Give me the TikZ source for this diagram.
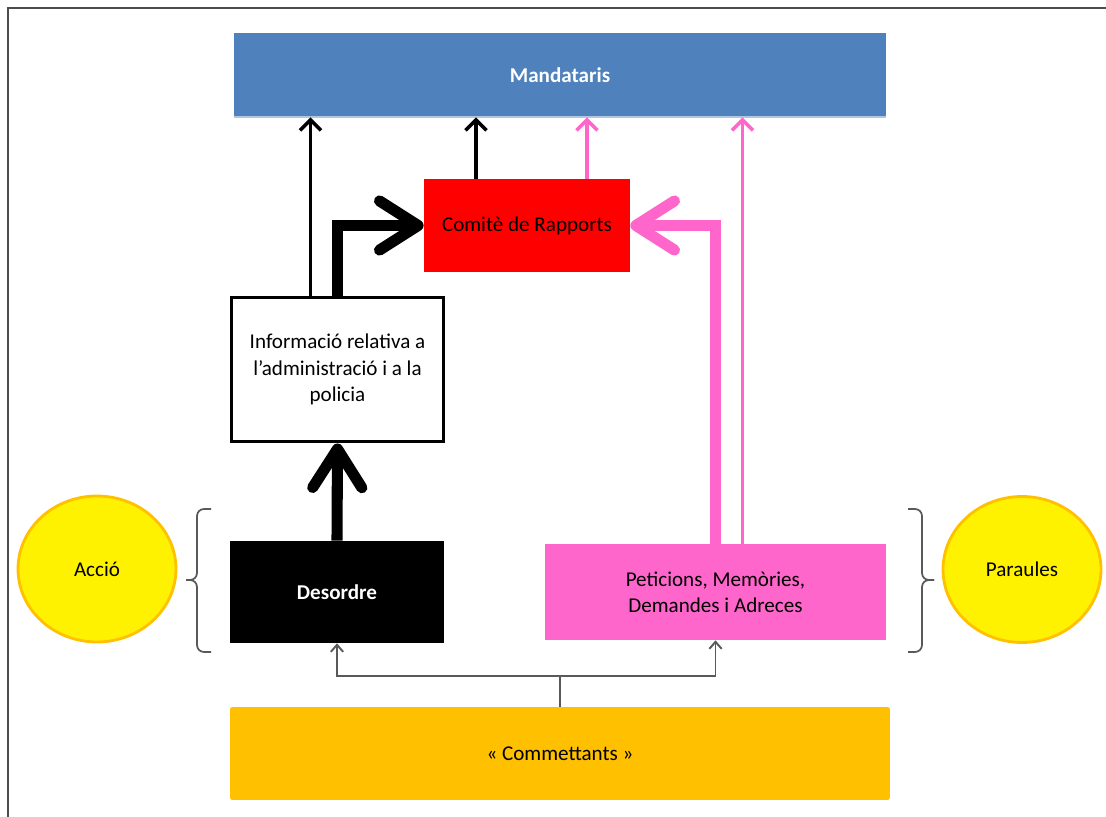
\documentclass[tikz,border=0pt]{standalone}
\usepackage{fontspec}
\setmainfont{Carlito}
\usepackage{tikz}
\usetikzlibrary{positioning,calc,arrows.meta,shapes.geometric}
\definecolor{mandblue}{HTML}{4F81BD}
\definecolor{petpink}{HTML}{FF66CC}
\definecolor{commgold}{HTML}{FFC000}
\definecolor{framegray}{HTML}{4D4D4D}
\definecolor{linegray}{HTML}{595959}
\tikzstyle{line} = [draw,thick]

\begin{document}
\begin{tikzpicture}[x=0.02cm,y=-0.02cm,font=\fontsize{12}{15}\selectfont,
            box/.style = {rectangle, inner sep=2pt, align=center},
            bubble/.style = {ellipse, draw=commgold, line width=1.6pt, fill=yellow,
              minimum width=3.16cm, minimum height=2.92cm},
            thinarr/.style = {line, line width=2pt, -{Straight Barb[length=6pt,width=12pt]}},
            fatarr/.style = {line, line width=6.3pt, -{Straight Barb[length=22pt,width=28pt,round]}},
            feed/.style = {line, draw=linegray, line width=1.1pt, -{Straight Barb[length=4pt,width=7pt]}},
            curly/.style = {draw=linegray, line width=1pt, rounded corners=4pt}]
            \useasboundingbox (0,0) rectangle (1106,817);
            \draw[framegray, line width=1.1pt] (8,817) -- (8,8) -- (1106,8);
            \node[box, fill=mandblue, text=white, font=\fontsize{12}{15}\selectfont\bfseries,
              minimum width=13.04cm, minimum height=1.68cm] (mand) at (560,75) {Mandataris};
            \draw[mandblue!45!white, line width=1pt] (mand.south west) -- (mand.south east);
            \node[box, fill=red, minimum width=4.12cm, minimum height=1.86cm] (comite) at (527,225.5) {Comitè de Rapports};
            \node[box, draw=black, line width=1.7pt, fill=white, minimum width=4.26cm, minimum height=2.9cm] (info) at (337.5,369.5) {Informació relativa a\\l’administració i a la\\policia};
            \node[box, fill=black, text=white, font=\fontsize{12}{15}\selectfont\bfseries,
              minimum width=4.28cm, minimum height=2.04cm] (desordre) at (337,592) {Desordre};
            \node[box, fill=petpink, minimum width=6.82cm, minimum height=1.92cm] (peticions) at (715.5,592) {Peticions, Memòries,\\Demandes i Adreces};
            \node[box, fill=commgold, rounded corners=1pt, minimum width=13.2cm, minimum height=1.86cm] (commet) at (560,753.5) {« Commettants »};
            \node[bubble] (accio) at (97,569) {Acció};
            \node[bubble] (paraules) at (1022,569.5) {Paraules};
            % claus
            \draw[curly] (211,509) -- (197,509) -- (197,580) -- (186,580);
            \draw[curly] (186,580) -- (197,580) -- (197,652) -- (211,652);
            \draw[curly] (908,509) -- (922,509) -- (922,580) -- (934,580);
            \draw[curly] (934,580) -- (922,580) -- (922,652) -- (908,652);
            % fletxes cap als mandataris
            \coordinate (infoL) at ($(info.north)+(-27,0)$);
            \coordinate (comL) at ($(comite.north)+(-51,0)$);
            \coordinate (comR) at ($(comite.north)+(60,0)$);
            \coordinate (petR) at ($(peticions.north)+(27,0)$);
            \path [thinarr] (infoL) -- (infoL |- mand.south);
            \path [thinarr] (comL) -- (comL |- mand.south);
            \path [thinarr, draw=petpink] (comR) -- (comR |- mand.south);
            \path [thinarr, draw=petpink] (petR) -- (petR |- mand.south);
            % fletxes gruixudes
            \path [fatarr] (info.north) |- (comite.west);
            \path [fatarr, draw=petpink] (peticions.north) |- (comite.east);
            \path [fatarr] (desordre.north) -- (info.south);
            % commettants
            \path [line, draw=linegray, line width=1.1pt] (commet.north) -- ++(0,-31) coordinate (split);
            \path [feed] (split) -| (desordre.south);
            \path [feed] (split) -| (peticions.south);
\end{tikzpicture}
\end{document}
